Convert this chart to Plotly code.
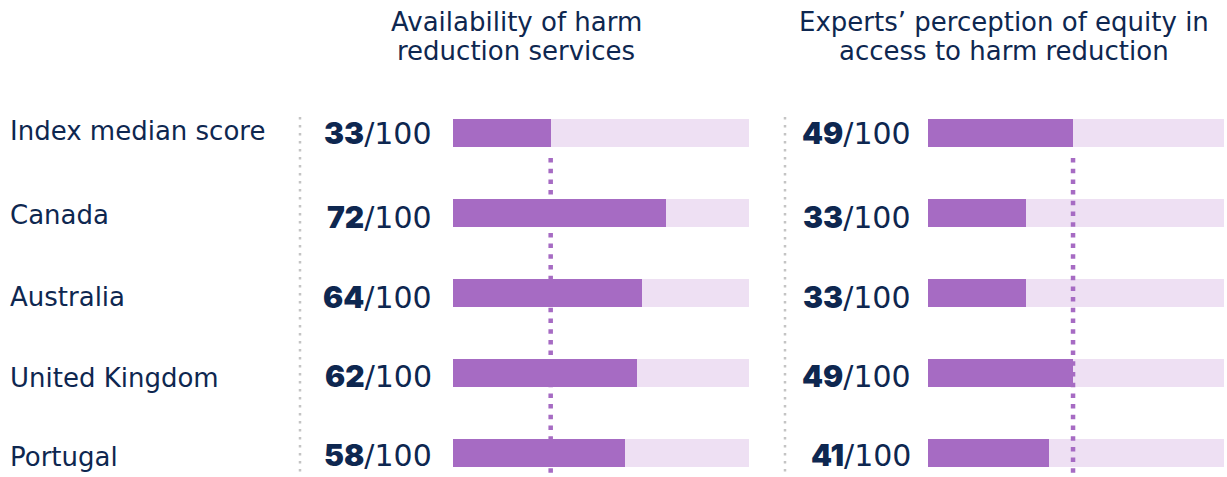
import plotly.graph_objects as go

# ---- data ----
rows = ["Index median score", "Canada", "Australia", "United Kingdom", "Portugal"]
availability = [33, 72, 64, 62, 58]
equity = [49, 33, 33, 49, 41]
max_score = 100
titles = [["Availability of harm", "reduction services"],
          ["Experts’ perception of equity in", "access to harm reduction"]]

# ---- style / layout positions (pixels) ----
W, H = 1227, 477
NAVY = "#0e2750"
PURPLE = "#a66bc3"
LIGHT = "#eee0f3"
GREY = "#c4c4c4"
LABEL_FONT = "DejaVu Sans"
NUM_FONT = "Inter"
label_y_px = [131, 215, 297, 378, 457]
score_y_px = [133, 217, 297, 376, 455]

row_top_px = 133      # pixel centre of first row
row_step_px = 80
y_top = -row_top_px / row_step_px
y_bot = (H - row_top_px) / row_step_px
bar_w = 28 / row_step_px

idx = list(range(len(rows)))

fig = go.Figure()
fig.add_trace(go.Bar(y=idx, x=availability, orientation="h", width=bar_w,
                     marker=dict(color=PURPLE, line=dict(width=0)),
                     xaxis="x", yaxis="y", hoverinfo="skip", showlegend=False))
fig.add_trace(go.Bar(y=idx, x=equity, orientation="h", width=bar_w,
                     marker=dict(color=PURPLE, line=dict(width=0)),
                     xaxis="x2", yaxis="y", hoverinfo="skip", showlegend=False))

shapes = []
# background tracks (full scale)
for xr in ("x", "x2"):
    for i in idx:
        shapes.append(dict(type="rect", xref=xr, yref="y", x0=0, x1=max_score,
                           y0=i - bar_w / 2, y1=i + bar_w / 2,
                           fillcolor=LIGHT, line=dict(width=0), layer="below"))
# median dotted lines
med_start = (158 - row_top_px) / row_step_px
for xr, vals in (("x", availability), ("x2", equity)):
    shapes.append(dict(type="line", xref=xr, yref="y", x0=vals[0], x1=vals[0],
                       y0=med_start, y1=y_bot,
                       line=dict(color=PURPLE, width=4.5, dash="4.5px,6.2px"),
                       layer="below"))
# grey separators
for px in (300, 785):
    shapes.append(dict(type="line", xref="paper", yref="paper",
                       x0=px / W, x1=px / W, y0=1 - 117 / H, y1=1 - 472 / H,
                       line=dict(color=GREY, width=2.5, dash="2.5px,5.5px")))

ann = []
for i, name in enumerate(rows):
    ann.append(dict(text=name, xref="paper", yref="paper", x=8 / W, y=1 - label_y_px[i] / H,
                    xanchor="left", yanchor="middle", showarrow=False,
                    font=dict(family=LABEL_FONT, size=26, color=NAVY)))
    for px, vals in ((434, availability), (913, equity)):
        ann.append(dict(text=f"<span style='font-family:{NUM_FONT};font-weight:900'>{vals[i]}</span>/{max_score}",
                        xref="paper", yref="paper", x=px / W, y=1 - score_y_px[i] / H,
                        xanchor="right", yanchor="middle", showarrow=False,
                        font=dict(family=LABEL_FONT, size=30, color=NAVY)))
for cx, lines in zip((516, 1004), titles):
    for py, t in zip((22, 51), lines):
        ann.append(dict(text=t, xref="paper", yref="paper", x=cx / W, y=1 - py / H,
                        xanchor="center", yanchor="middle", showarrow=False,
                        font=dict(family=LABEL_FONT, size=26, color=NAVY)))

fig.update_layout(
    width=W, height=H, margin=dict(l=0, r=0, t=0, b=0),
    paper_bgcolor="white", plot_bgcolor="rgba(0,0,0,0)",
    barmode="overlay", bargap=0,
    xaxis=dict(domain=[453 / W, 749 / W], range=[0, max_score], visible=False, fixedrange=True),
    xaxis2=dict(domain=[928 / W, 1224 / W], range=[0, max_score], visible=False,
                anchor="y", fixedrange=True),
    yaxis=dict(range=[y_bot, y_top], visible=False, fixedrange=True),
    shapes=shapes, annotations=ann,
)

fig.write_html("out.html", config={"displayModeBar": False},
               post_script="document.body.style.margin='0';document.body.style.padding='0';")
